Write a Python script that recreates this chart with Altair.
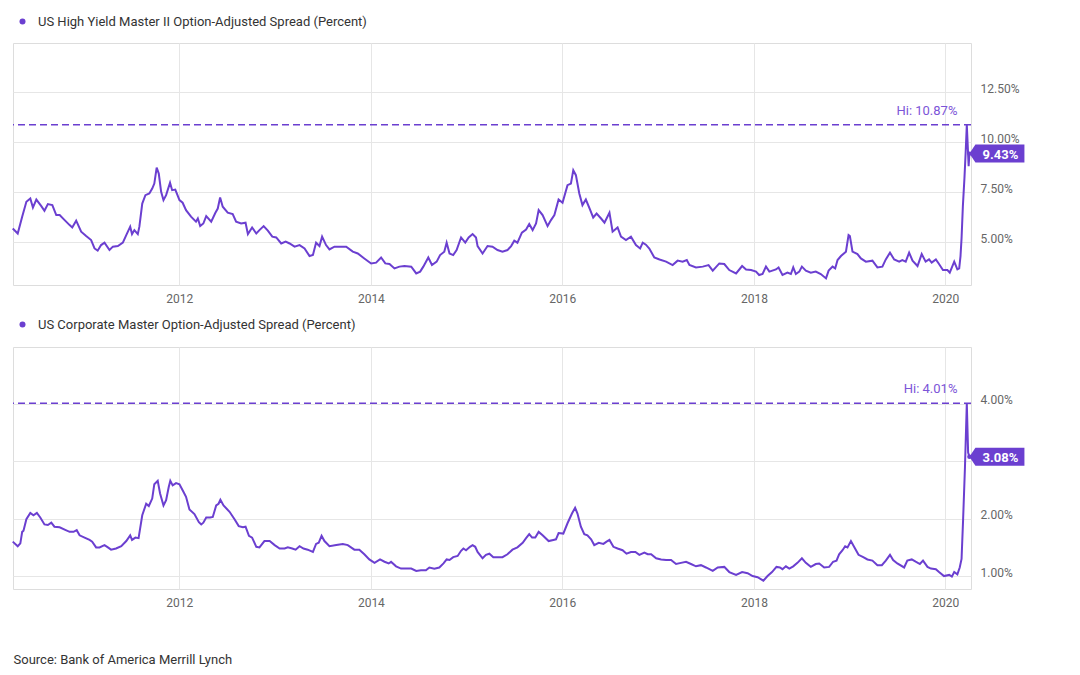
import altair as alt
import pandas as pd
from datetime import datetime

PURPLE = "#6b3fd0"
HI_COLOR = "#7c55d8"
AXIS_COLOR = "#666666"
TEXT_COLOR = "#333333"
FONT = "Roboto"

# ---------------- data ----------------
hy_name = "US High Yield Master II Option-Adjusted Spread (Percent)"
hy_years = [
    2010.263, 2010.315, 2010.361, 2010.403, 2010.445, 2010.472, 2010.507, 2010.559, 2010.594, 2010.628,
    2010.674, 2010.716, 2010.751, 2010.803, 2010.855, 2010.883, 2010.925, 2010.977, 2011.029, 2011.081,
    2011.116, 2011.150, 2011.186, 2011.220, 2011.272, 2011.307, 2011.359, 2011.411, 2011.447, 2011.489,
    2011.509, 2011.533, 2011.568, 2011.586, 2011.614, 2011.648, 2011.690, 2011.718, 2011.742, 2011.766,
    2011.787, 2011.812, 2011.836, 2011.864, 2011.906, 2011.927, 2011.961, 2012.003, 2012.038, 2012.073,
    2012.125, 2012.177, 2012.194, 2012.219, 2012.254, 2012.282, 2012.334, 2012.379, 2012.403, 2012.428,
    2012.455, 2012.507, 2012.559, 2012.595, 2012.647, 2012.692, 2012.716, 2012.762, 2012.804, 2012.838,
    2012.880, 2012.925, 2012.971, 2013.013, 2013.065, 2013.110, 2013.151, 2013.204, 2013.256, 2013.308,
    2013.360, 2013.395, 2013.430, 2013.465, 2013.493, 2013.534, 2013.569, 2013.621, 2013.673, 2013.743,
    2013.812, 2013.864, 2013.934, 2014.004, 2014.056, 2014.109, 2014.153, 2014.195, 2014.247, 2014.300,
    2014.352, 2014.422, 2014.474, 2014.516, 2014.550, 2014.602, 2014.641, 2014.689, 2014.724, 2014.769,
    2014.793, 2014.822, 2014.863, 2014.898, 2014.944, 2014.989, 2015.023, 2015.065, 2015.100, 2015.117,
    2015.169, 2015.221, 2015.273, 2015.326, 2015.378, 2015.430, 2015.466, 2015.500, 2015.534, 2015.580,
    2015.622, 2015.657, 2015.691, 2015.727, 2015.754, 2015.795, 2015.848, 2015.883, 2015.918, 2015.962,
    2016.004, 2016.056, 2016.092, 2016.116, 2016.144, 2016.178, 2016.213, 2016.248, 2016.290, 2016.325,
    2016.359, 2016.405, 2016.440, 2016.463, 2016.492, 2016.526, 2016.578, 2016.614, 2016.666, 2016.718,
    2016.770, 2016.812, 2016.839, 2016.874, 2016.909, 2016.961, 2017.014, 2017.084, 2017.152, 2017.205,
    2017.257, 2017.299, 2017.327, 2017.397, 2017.466, 2017.528, 2017.570, 2017.640, 2017.692, 2017.744,
    2017.814, 2017.877, 2017.919, 2017.971, 2018.023, 2018.057, 2018.092, 2018.127, 2018.162, 2018.232,
    2018.259, 2018.301, 2018.353, 2018.388, 2018.412, 2018.441, 2018.475, 2018.503, 2018.545, 2018.597,
    2018.649, 2018.701, 2018.754, 2018.781, 2018.823, 2018.851, 2018.875, 2018.910, 2018.962, 2018.990,
    2019.004, 2019.031, 2019.084, 2019.119, 2019.171, 2019.240, 2019.292, 2019.344, 2019.380, 2019.422,
    2019.467, 2019.519, 2019.553, 2019.589, 2019.623, 2019.658, 2019.710, 2019.756, 2019.797, 2019.832,
    2019.860, 2019.902, 2019.936, 2019.978, 2020.023, 2020.048, 2020.093, 2020.127, 2020.145, 2020.160,
    2020.170, 2020.185, 2020.200, 2020.215, 2020.225, 2020.238, 2020.245, 2020.252,
]
hy_values = [
    5.68, 5.43, 6.27, 7.02, 7.18, 6.73, 7.13, 6.80, 6.57, 6.90,
    6.85, 6.35, 6.35, 6.10, 5.85, 5.73, 6.07, 5.52, 5.30, 5.10,
    4.68, 4.57, 4.85, 4.97, 4.60, 4.77, 4.80, 4.97, 5.35, 5.77,
    5.40, 5.60, 5.40, 5.77, 6.93, 7.35, 7.43, 7.68, 7.93, 8.73,
    8.43, 7.52, 7.10, 7.35, 7.97, 7.60, 7.63, 7.10, 6.97, 6.60,
    6.27, 6.02, 6.18, 5.80, 5.93, 6.30, 6.02, 6.47, 6.68, 7.23,
    6.77, 6.47, 6.40, 6.02, 5.93, 5.97, 5.40, 5.73, 5.43, 5.60,
    5.80, 5.57, 5.27, 5.23, 4.93, 5.02, 4.93, 4.77, 4.85, 4.68,
    4.30, 4.35, 4.97, 4.80, 5.27, 4.85, 4.63, 4.77, 4.77, 4.77,
    4.52, 4.43, 4.18, 3.93, 3.97, 4.23, 3.93, 3.90, 3.68, 3.77,
    3.80, 3.77, 3.43, 3.52, 3.77, 4.23, 3.85, 4.02, 4.35, 4.52,
    4.97, 4.43, 4.35, 4.60, 5.23, 4.97, 5.23, 5.40, 5.23, 4.80,
    4.43, 4.80, 4.77, 4.60, 4.52, 4.60, 4.80, 5.07, 4.97, 5.47,
    5.63, 5.90, 5.60, 5.93, 6.60, 6.35, 5.80, 6.10, 6.35, 7.13,
    6.97, 7.85, 7.93, 8.60, 8.35, 7.43, 6.85, 7.13, 6.63, 6.23,
    6.43, 6.18, 5.97, 6.18, 6.47, 5.52, 5.73, 5.27, 5.10, 5.27,
    4.85, 4.68, 4.97, 4.87, 4.68, 4.23, 4.13, 4.02, 3.85, 4.07,
    4.02, 4.10, 3.85, 3.73, 3.77, 3.85, 3.57, 3.93, 3.90, 3.60,
    3.43, 3.80, 3.63, 3.60, 3.52, 3.35, 3.40, 3.77, 3.52, 3.63,
    3.73, 3.35, 3.47, 3.40, 3.73, 3.40, 3.52, 3.77, 3.57, 3.47,
    3.52, 3.40, 3.18, 3.57, 3.77, 3.68, 4.10, 4.30, 4.52, 5.35,
    5.30, 4.52, 4.40, 4.18, 4.02, 4.07, 3.73, 3.77, 4.13, 4.47,
    4.13, 4.02, 4.10, 4.02, 4.47, 4.07, 3.80, 4.40, 4.02, 4.13,
    3.97, 4.13, 3.90, 3.60, 3.60, 3.47, 4.02, 3.63, 3.68, 4.30,
    5.20, 6.80, 8.20, 9.60, 10.87, 9.40, 8.80, 9.43,
]

ig_name = "US Corporate Master Option-Adjusted Spread (Percent)"
ig_years = [
    2010.263, 2010.315, 2010.340, 2010.361, 2010.375, 2010.403, 2010.445, 2010.479, 2010.514, 2010.549,
    2010.594, 2010.628, 2010.664, 2010.698, 2010.751, 2010.803, 2010.855, 2010.897, 2010.931, 2010.959,
    2011.011, 2011.064, 2011.092, 2011.134, 2011.168, 2011.220, 2011.255, 2011.290, 2011.342, 2011.395,
    2011.447, 2011.489, 2011.509, 2011.544, 2011.578, 2011.614, 2011.656, 2011.683, 2011.718, 2011.742,
    2011.777, 2011.802, 2011.836, 2011.864, 2011.891, 2011.909, 2011.933, 2011.969, 2012.003, 2012.045,
    2012.073, 2012.108, 2012.160, 2012.205, 2012.230, 2012.254, 2012.282, 2012.324, 2012.351, 2012.386,
    2012.410, 2012.431, 2012.462, 2012.525, 2012.577, 2012.622, 2012.664, 2012.692, 2012.727, 2012.762,
    2012.804, 2012.838, 2012.890, 2012.943, 2012.995, 2013.047, 2013.099, 2013.134, 2013.180, 2013.214,
    2013.256, 2013.297, 2013.342, 2013.395, 2013.430, 2013.457, 2013.485, 2013.517, 2013.569, 2013.639,
    2013.708, 2013.760, 2013.830, 2013.882, 2013.934, 2013.986, 2014.039, 2014.098, 2014.143, 2014.188,
    2014.213, 2014.265, 2014.317, 2014.370, 2014.422, 2014.474, 2014.526, 2014.578, 2014.613, 2014.665,
    2014.717, 2014.759, 2014.793, 2014.822, 2014.863, 2014.908, 2014.944, 2014.968, 2014.996, 2015.038,
    2015.065, 2015.093, 2015.117, 2015.169, 2015.205, 2015.239, 2015.281, 2015.326, 2015.378, 2015.430,
    2015.482, 2015.534, 2015.587, 2015.622, 2015.657, 2015.685, 2015.719, 2015.754, 2015.795, 2015.858,
    2015.907, 2015.935, 2015.962, 2016.012, 2016.056, 2016.102, 2016.134, 2016.161, 2016.196, 2016.231,
    2016.265, 2016.301, 2016.335, 2016.380, 2016.429, 2016.463, 2016.492, 2016.533, 2016.578, 2016.631,
    2016.672, 2016.718, 2016.763, 2016.805, 2016.857, 2016.891, 2016.927, 2016.979, 2017.031, 2017.084,
    2017.136, 2017.188, 2017.240, 2017.292, 2017.344, 2017.397, 2017.449, 2017.501, 2017.570, 2017.622,
    2017.692, 2017.744, 2017.814, 2017.877, 2017.935, 2017.987, 2018.040, 2018.099, 2018.144, 2018.190,
    2018.238, 2018.273, 2018.301, 2018.336, 2018.371, 2018.412, 2018.457, 2018.503, 2018.545, 2018.597,
    2018.649, 2018.684, 2018.736, 2018.788, 2018.830, 2018.864, 2018.893, 2018.927, 2018.955, 2018.979,
    2019.015, 2019.049, 2019.094, 2019.143, 2019.188, 2019.240, 2019.292, 2019.338, 2019.380, 2019.422,
    2019.456, 2019.501, 2019.571, 2019.605, 2019.651, 2019.693, 2019.735, 2019.769, 2019.814, 2019.850,
    2019.902, 2019.936, 2019.989, 2020.041, 2020.069, 2020.093, 2020.127, 2020.153, 2020.170, 2020.187,
    2020.205, 2020.225, 2020.238, 2020.252,
]
ig_values = [
    1.60, 1.52, 1.57, 1.77, 1.79, 1.99, 2.10, 2.06, 2.10, 2.02,
    1.90, 1.89, 1.93, 1.86, 1.85, 1.81, 1.77, 1.77, 1.80, 1.71,
    1.67, 1.63, 1.60, 1.50, 1.50, 1.54, 1.50, 1.46, 1.48, 1.52,
    1.61, 1.71, 1.63, 1.67, 1.66, 2.06, 2.26, 2.22, 2.35, 2.60,
    2.66, 2.44, 2.23, 2.32, 2.55, 2.66, 2.58, 2.62, 2.60, 2.47,
    2.38, 2.16, 2.08, 1.94, 1.90, 1.93, 2.02, 2.02, 2.03, 2.23,
    2.26, 2.33, 2.23, 2.12, 1.99, 1.87, 1.85, 1.86, 1.70, 1.67,
    1.51, 1.50, 1.61, 1.61, 1.54, 1.48, 1.48, 1.50, 1.48, 1.46,
    1.52, 1.48, 1.46, 1.42, 1.56, 1.58, 1.70, 1.61, 1.52, 1.54,
    1.56, 1.54, 1.46, 1.46, 1.38, 1.29, 1.23, 1.29, 1.25, 1.22,
    1.25, 1.17, 1.13, 1.13, 1.13, 1.09, 1.10, 1.10, 1.15, 1.13,
    1.15, 1.22, 1.29, 1.28, 1.33, 1.35, 1.44, 1.48, 1.45, 1.51,
    1.54, 1.51, 1.42, 1.31, 1.37, 1.39, 1.33, 1.33, 1.33, 1.38,
    1.46, 1.50, 1.58, 1.66, 1.73, 1.67, 1.67, 1.77, 1.71, 1.61,
    1.63, 1.64, 1.75, 1.74, 1.92, 2.09, 2.19, 2.09, 1.86, 1.73,
    1.71, 1.64, 1.54, 1.58, 1.56, 1.60, 1.63, 1.51, 1.48, 1.45,
    1.39, 1.42, 1.42, 1.37, 1.41, 1.38, 1.38, 1.31, 1.29, 1.28,
    1.28, 1.21, 1.23, 1.25, 1.21, 1.17, 1.19, 1.15, 1.09, 1.15,
    1.16, 1.07, 1.02, 1.07, 1.05, 1.00, 0.98, 0.92, 1.00, 1.07,
    1.16, 1.15, 1.12, 1.17, 1.13, 1.17, 1.23, 1.31, 1.23, 1.16,
    1.21, 1.22, 1.15, 1.16, 1.25, 1.27, 1.38, 1.45, 1.52, 1.50,
    1.61, 1.51, 1.37, 1.33, 1.29, 1.27, 1.19, 1.19, 1.27, 1.37,
    1.28, 1.22, 1.15, 1.27, 1.29, 1.25, 1.21, 1.27, 1.16, 1.13,
    1.12, 1.07, 1.00, 1.02, 0.99, 1.07, 1.03, 1.15, 1.30, 2.00,
    2.90, 4.01, 3.15, 3.08,
]

hy_ticks = [5.0, 7.5, 10.0, 12.5]
ig_ticks = [1.0, 2.0, 3.0, 4.0]
hy_domain = [2.85, 14.97]
ig_domain = [0.775, 4.99]
year_ticks = [2012, 2014, 2016, 2018, 2020]
source_text = "Source: Bank of America Merrill Lynch"

# ---------------- helpers ----------------
def to_date(y):
    yr = int(y)
    start = datetime(yr, 1, 1)
    end = datetime(yr + 1, 1, 1)
    return (start + (end - start) * (y - yr)).strftime("%Y-%m-%d")

BADGE = "M0,0L6,-9L55,-9L55,9L6,9Z"
W, H = 958, 242


def panel(years, values, name, ydomain, yticks, legend_y, source=None):
    dates = [to_date(y) for y in years]
    df = pd.DataFrame({"date": dates, "value": values})
    hi = max(values)
    last = values[-1]
    hi_df = pd.DataFrame({"date": [max(dates)], "value": [hi],
                          "label": [f"Hi: {hi:.2f}%"]})
    last_df = pd.DataFrame({"date": [dates[-1]], "value": [last],
                            "label": [f"{last:.2f}%"], "series": [name]})

    # tick labels that would sit under the end-value badge are left blank
    px_per_unit = H / (ydomain[1] - ydomain[0])
    hidden = [t for t in yticks if abs(t - last) * px_per_unit < 10]
    label_expr = "format(datum.value, '.2f') + '%'"
    if hidden:
        cond = " || ".join(f"datum.value == {t}" for t in hidden)
        label_expr = f"({cond}) ? '' : {label_expr}"

    xaxis_kw = dict(
        values=[alt.DateTime(year=y, month=1, date=1, utc=True) for y in year_ticks],
        format="%Y", grid=True, domain=False, ticks=False, labelPadding=8,
        labelColor=AXIS_COLOR, labelFontSize=12, labelFont=FONT,
        gridColor="#e6e6e6",
    )
    if source:
        xaxis_kw.update(titleAnchor="start", titleAlign="left", titleX=0, titleY=70,
                        titleBaseline="middle", titleFontSize=13, titleFontWeight="normal",
                        titleColor=TEXT_COLOR, titleFont=FONT)
    xenc = alt.X(
        "date:T",
        title=source if source else None,
        scale=alt.Scale(type="utc", domain=[
            alt.DateTime(year=2010, month=4, date=7, utc=True),
            alt.DateTime(year=2020, month=4, date=8, utc=True)]),
        axis=alt.Axis(**xaxis_kw),
    )
    yenc = alt.Y(
        "value:Q", title=None,
        scale=alt.Scale(domain=ydomain, nice=False, zero=False),
        axis=alt.Axis(orient="right", values=yticks, labelExpr=label_expr,
                      domain=False, ticks=False, labelPadding=9, grid=True,
                      gridColor="#e6e6e6", labelColor=AXIS_COLOR, labelFontSize=12,
                      labelFont=FONT, labelBaseline="alphabetic"),
    )

    line = alt.Chart(df).mark_line(color=PURPLE, strokeWidth=2).encode(x=xenc, y=yenc)
    hi_rule = alt.Chart(hi_df).mark_rule(color=PURPLE, strokeDash=[7, 4],
                                         strokeWidth=1.5).encode(y=yenc)
    hi_text = alt.Chart(hi_df).mark_text(
        align="right", baseline="middle", dx=-12, dy=-14, color=HI_COLOR,
        fontSize=13, font=FONT).encode(x=xenc, y=yenc, text="label:N")
    dot = alt.Chart(last_df).mark_circle(size=20, opacity=1).encode(
        x=xenc, y=yenc,
        color=alt.Color("series:N", scale=alt.Scale(range=[PURPLE]),
                        legend=alt.Legend(orient="none", legendX=3, legendY=legend_y,
                                          title=None, symbolSize=36, symbolType="circle",
                                          labelFontSize=13, labelColor=TEXT_COLOR,
                                          labelFont=FONT, labelOffset=9, labelLimit=700)))
    badge = alt.Chart(last_df).mark_point(shape=BADGE, size=4, filled=True, color=PURPLE,
                                          opacity=1, strokeWidth=0).encode(x=xenc, y=yenc)
    badge_text = alt.Chart(last_df).mark_text(
        color="white", fontWeight="bold", fontSize=13, font=FONT, align="center",
        baseline="middle", dx=31, dy=1).encode(x=xenc, y=yenc, text="label:N")

    return alt.layer(line, hi_rule, hi_text, dot, badge, badge_text).properties(
        width=W, height=H)


top = panel(hy_years, hy_values, hy_name, hy_domain, hy_ticks, -28)
bottom = panel(ig_years, ig_values, ig_name, ig_domain, ig_ticks, -29, source=source_text)

chart = alt.vconcat(top, bottom, spacing=62, bounds="flush").resolve_scale(
    color="independent", y="independent", x="independent"
).resolve_legend(color="independent").properties(
    padding={"left": 0, "top": 6, "right": 5, "bottom": 5},
    background="white",
).configure_view(stroke="#dcdcdc", strokeWidth=1).configure(font=FONT)

chart.save("out.html", embed_options={"renderer": "svg", "actions": False})
